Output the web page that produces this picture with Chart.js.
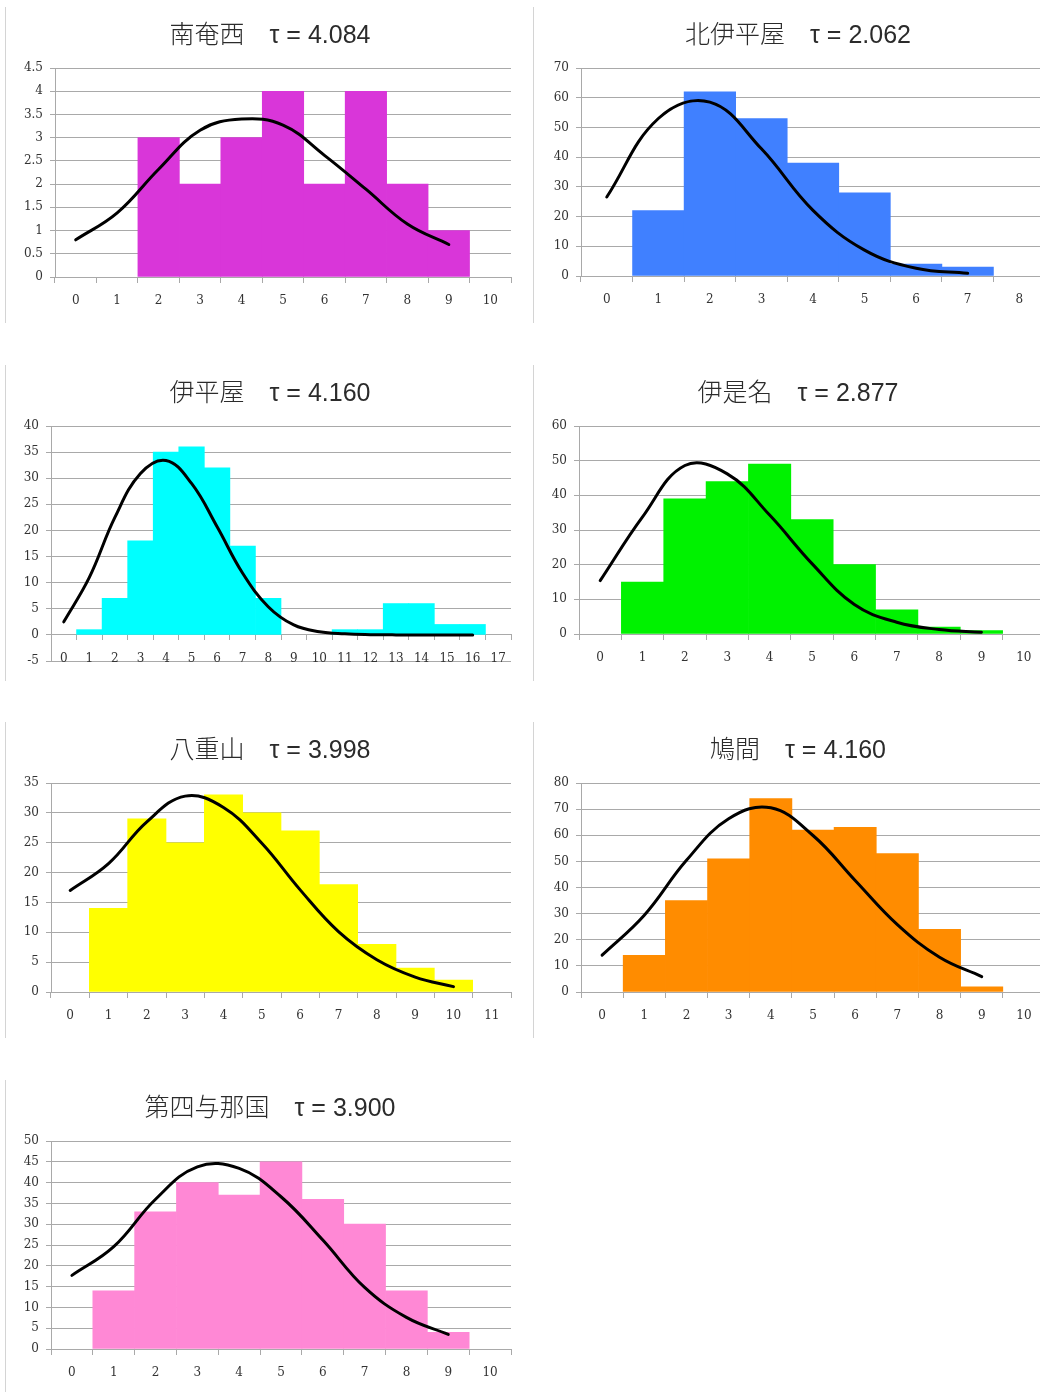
<!DOCTYPE html>
<html lang="ja">
<head>
<meta charset="utf-8">
<title>地点別ヒストグラムと適合曲線</title>
<script src="https://cdn.jsdelivr.net/npm/chart.js@4/dist/chart.umd.min.js"></script>
<style>
  html, body { margin: 0; padding: 0; background: #fff; width: 1040px; height: 1392px; overflow: hidden; }
  .panel { position: absolute; }
  .panel canvas { display: block; }
</style>
</head>
<body>
<div class="panel" id="p1"><canvas id="c1" width="530" height="316"></canvas></div>
<div class="panel" id="p2"><canvas id="c2" width="530" height="316"></canvas></div>
<div class="panel" id="p3"><canvas id="c3" width="530" height="316"></canvas></div>
<div class="panel" id="p4"><canvas id="c4" width="530" height="316"></canvas></div>
<div class="panel" id="p5"><canvas id="c5" width="530" height="316"></canvas></div>
<div class="panel" id="p6"><canvas id="c6" width="530" height="316"></canvas></div>
<div class="panel" id="p7"><canvas id="c7" width="530" height="316"></canvas></div>
<script>
// ---- data: one histogram (counts per class) and one fitted curve per site ----

// 南奄西
const anzaiName = '南奄西';
const anzaiTau = '4.084';
const anzaiX = ['0','1','2','3','4','5','6','7','8','9','10'];
const anzaiCount = [0, 0, 3, 2, 3, 4, 2, 4, 2, 1, 0];
const anzaiFit = [0.80, 1.38, 2.32, 3.16, 3.40, 3.27, 2.62, 1.89, 1.14, 0.70, null];
const anzaiY = [0, 4.5, 0.5];

// 北伊平屋
const kitaIheyaName = '北伊平屋';
const kitaIheyaTau = '2.062';
const kitaIheyaX = ['0','1','2','3','4','5','6','7','8'];
const kitaIheyaCount = [0, 22, 62, 53, 38, 28, 4, 3, 0];
const kitaIheyaFit = [26.6, 53, 58.5, 42.8, 22.1, 8.7, 2.6, 0.9, null];
const kitaIheyaY = [0, 70, 10];

// 伊平屋
const iheyaName = '伊平屋';
const iheyaTau = '4.160';
const iheyaX = ['0','1','2','3','4','5','6','7','8','9','10','11','12','13','14','15','16','17'];
const iheyaCount = [0, 1, 7, 18, 35, 36, 32, 17, 7, 0, 0, 1, 1, 6, 6, 2, 2, 0];
const iheyaFit = [2.5, 11, 22.5, 30.9, 33.4, 29, 20.7, 11.8, 5.4, 1.9, 0.6, 0.2, 0.05, 0, 0, 0, 0, null];
const iheyaY = [-5, 40, 5];

// 伊是名
const izenaName = '伊是名';
const izenaTau = '2.877';
const izenaX = ['0','1','2','3','4','5','6','7','8','9','10'];
const izenaCount = [0, 15, 39, 44, 49, 33, 20, 7, 2, 1, 0];
const izenaFit = [15.4, 33.8, 48.6, 46.2, 34.3, 20.3, 8.5, 3.4, 1.3, 0.5, null];
const izenaY = [0, 60, 10];

// 八重山
const yaeyamaName = '八重山';
const yaeyamaTau = '3.998';
const yaeyamaX = ['0','1','2','3','4','5','6','7','8','9','10','11'];
const yaeyamaCount = [0, 14, 29, 25, 33, 30, 27, 18, 8, 4, 2, 0];
const yaeyamaFit = [17, 21.5, 28.5, 32.8, 30.9, 24.9, 17.1, 10.1, 5.4, 2.5, 0.9, null];
const yaeyamaY = [0, 35, 5];

// 鳩間
const hatomaName = '鳩間';
const hatomaTau = '4.160';
const hatomaX = ['0','1','2','3','4','5','6','7','8','9','10'];
const hatomaCount = [0, 14, 35, 51, 74, 62, 63, 53, 24, 2, 0];
const hatomaFit = [14.1, 29.4, 50.4, 66.3, 70.5, 59.9, 42.7, 25.8, 13.3, 5.9, null];
const hatomaY = [0, 80, 10];

// 第四与那国
const yonaguniName = '第四与那国';
const yonaguniTau = '3.900';
const yonaguniX = ['0','1','2','3','4','5','6','7','8','9','10'];
const yonaguniCount = [0, 14, 33, 40, 37, 45, 36, 30, 14, 4, 0];
const yonaguniFit = [17.7, 24.6, 36, 43.8, 43.4, 36.6, 26.2, 14.8, 7.6, 3.5, null];
const yonaguniY = [0, 50, 5];

// ---- panel placement and styling ----
const GRID = '#a9a9a9';
const TEXT = '#333333';
const TICK_FONT = { family: "'DejaVu Serif', 'Liberation Serif', serif", size: 12 };
const TITLE_FONT = { family: "'Liberation Sans', 'Noto Sans CJK JP', sans-serif", size: 25, weight: '300', lineHeight: 1.2 };

// yWidth: room left of the value axis; rightGap: empty strip right of the plot
const panels = [
  { canvas: 'c1', box: 'p1', left: 5,   top: 7,    yWidth: 50, rightGap: 24, padB: 46, color: '#D936D9',
    name: anzaiName, tau: anzaiTau, x: anzaiX, count: anzaiCount, fit: anzaiFit, y: anzaiY },
  { canvas: 'c2', box: 'p2', left: 533, top: 7,    yWidth: 48, rightGap: 18, padB: 47, color: '#4080FF',
    name: kitaIheyaName, tau: kitaIheyaTau, x: kitaIheyaX, count: kitaIheyaCount, fit: kitaIheyaFit, y: kitaIheyaY },
  { canvas: 'c3', box: 'p3', left: 5,   top: 365,  yWidth: 46, rightGap: 24, padB: 20, color: '#00FFFF',
    name: iheyaName, tau: iheyaTau, x: iheyaX, count: iheyaCount, fit: iheyaFit, y: iheyaY },
  { canvas: 'c4', box: 'p4', left: 533, top: 365,  yWidth: 46, rightGap: 18, padB: 47, color: '#00F200',
    name: izenaName, tau: izenaTau, x: izenaX, count: izenaCount, fit: izenaFit, y: izenaY },
  { canvas: 'c5', box: 'p5', left: 5,   top: 722,  yWidth: 46, rightGap: 24, padB: 46, color: '#FFFF00',
    name: yaeyamaName, tau: yaeyamaTau, x: yaeyamaX, count: yaeyamaCount, fit: yaeyamaFit, y: yaeyamaY },
  { canvas: 'c6', box: 'p6', left: 533, top: 722,  yWidth: 48, rightGap: 18, padB: 46, color: '#FF8C00',
    name: hatomaName, tau: hatomaTau, x: hatomaX, count: hatomaCount, fit: hatomaFit, y: hatomaY },
  { canvas: 'c7', box: 'p7', left: 5,   top: 1080, yWidth: 46, rightGap: 24, padB: 47, color: '#FF88D5',
    name: yonaguniName, tau: yonaguniTau, x: yonaguniX, count: yonaguniCount, fit: yonaguniFit, y: yonaguniY }
];

// thin frame line on the left edge of every chart
const panelEdge = {
  id: 'panelEdge',
  beforeDraw(chart) {
    const ctx = chart.ctx;
    ctx.save();
    ctx.strokeStyle = '#d4d4d4';
    ctx.lineWidth = 1;
    ctx.beginPath();
    ctx.moveTo(0.5, 0);
    ctx.lineTo(0.5, chart.height);
    ctx.stroke();
    ctx.restore();
  }
};

panels.forEach(p => {
  const box = document.getElementById(p.box);
  box.style.left = p.left + 'px';
  box.style.top = p.top + 'px';

  new Chart(document.getElementById(p.canvas), {
    type: 'bar',
    data: {
      labels: p.x,
      datasets: [
        {
          type: 'line',
          data: p.fit,
          borderColor: '#000000',
          borderWidth: 3,
          borderCapStyle: 'round',
          borderJoinStyle: 'round',
          pointRadius: 0,
          tension: 0.4,
          fill: false,
          order: 0
        },
        {
          type: 'bar',
          data: p.count,
          // empty classes leave no sliver on the base line
          backgroundColor: c => (c.raw > 0 ? p.color : 'rgba(0,0,0,0)'),
          borderWidth: 0,
          barPercentage: 1,
          categoryPercentage: 1,
          order: 1
        }
      ]
    },
    options: {
      responsive: false,
      animation: false,
      events: [],
      layout: { padding: { top: 0, left: 0, right: 0, bottom: p.padB } },
      plugins: {
        legend: { display: false },
        tooltip: { enabled: false },
        title: {
          display: true,
          text: p.name + '\u3000τ = ' + p.tau,
          color: '#2b2b2b',
          font: TITLE_FONT,
          padding: { top: 14, bottom: 17 }
        }
      },
      scales: {
        x: {
          position: { y: 0 },
          offset: true,
          grid: { display: true, offset: true, drawOnChartArea: false, drawTicks: true, tickLength: 5, color: GRID, lineWidth: 1 },
          border: { display: true, color: GRID, width: 1 },
          ticks: { color: TEXT, font: TICK_FONT, padding: 12, autoSkip: false, maxRotation: 0 }
        },
        y: {
          position: 'left',
          min: p.y[0],
          max: p.y[1],
          grid: { color: GRID, lineWidth: 1, drawTicks: true, tickLength: 5 },
          border: { display: true, color: GRID, width: 1 },
          ticks: { stepSize: p.y[2], color: TEXT, font: TICK_FONT, padding: 7, callback: v => String(v) },
          afterFit(scale) { scale.width = p.yWidth; }
        },
        // empty strip on the right so the plot ends short of the frame
        gap: {
          type: 'linear',
          position: 'right',
          display: true,
          grid: { display: false },
          border: { display: false },
          ticks: { display: false },
          afterFit(scale) { scale.width = p.rightGap; }
        }
      }
    },
    plugins: [panelEdge]
  });
});
</script>
</body>
</html>
